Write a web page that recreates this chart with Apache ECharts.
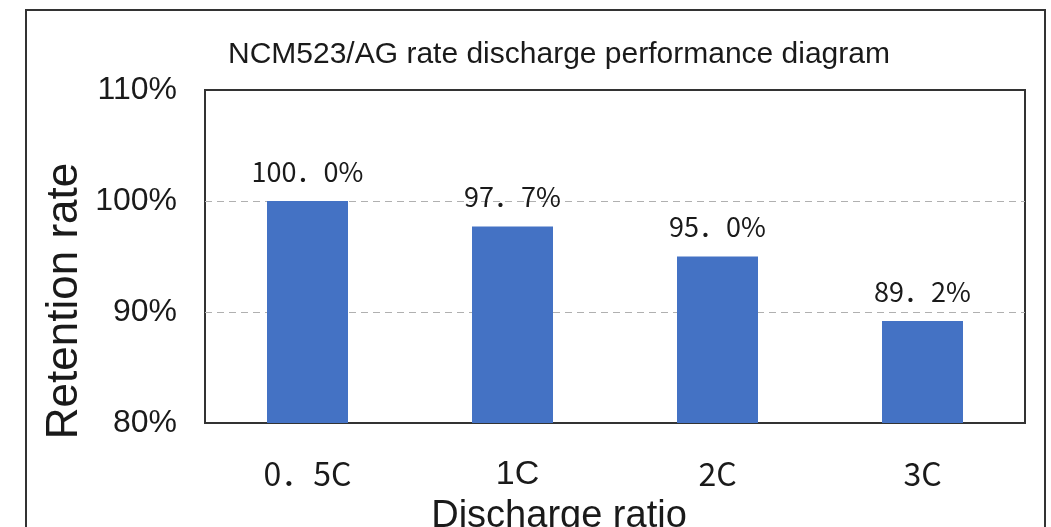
<!DOCTYPE html>
<html>
<head>
<meta charset="utf-8">
<style>
  html, body { margin: 0; padding: 0; background: #ffffff; }
  #chart { width: 1051px; height: 527px; }
</style>
<script src="https://cdn.jsdelivr.net/npm/echarts@6/dist/echarts.min.js"></script>
</head>
<body>
<div id="chart"></div>
<script>
// Discharge rates and the capacity retained at each rate (%)
const categories = ['0.5C', '1C', '2C', '3C'];
const retention = [100.0, 97.7, 95.0, 89.2];
const yTicks = { min: 80, max: 110, step: 10 };

const titleText = 'NCM523/AG rate discharge performance diagram';
const xAxisTitle = 'Discharge ratio';
const yAxisTitle = 'Retention rate';

const CJK = '"Noto Sans CJK SC", "Noto Sans", sans-serif';
const LATIN = '"Liberation Sans", Arial, sans-serif';

// decimal point shown as a full-width stop, as in the labels
const fw = s => String(s).replace('.', '\uFF0E');

const chart = echarts.init(document.getElementById('chart'));

chart.setOption({
  backgroundColor: '#ffffff',
  animation: false,
  title: {
    text: titleText,
    left: 223,
    top: 35,
    textStyle: { fontFamily: LATIN, fontSize: 30, fontWeight: 'normal', color: '#1a1a1a' }
  },
  grid: {
    left: 205, top: 90, right: 26, bottom: 104,
    show: true, borderColor: '#333333', borderWidth: 2, backgroundColor: 'transparent'
  },
  xAxis: {
    type: 'category',
    data: categories,
    axisLine: { show: false },
    axisTick: { show: false },
    axisLabel: {
      margin: 35,
      formatter: v => v === '1C' ? '{big|' + v + '}' : '{cjk|' + fw(v) + '}',
      rich: {
        cjk: { fontFamily: CJK, fontSize: 32, color: '#1a1a1a' },
        big: { fontFamily: LATIN, fontSize: 34, color: '#1a1a1a', padding: [0, 0, 10, 10] }
      }
    }
  },
  yAxis: {
    type: 'value',
    min: yTicks.min, max: yTicks.max, interval: yTicks.step,
    axisLine: { show: false },
    axisTick: { show: false },
    splitLine: {
      showMinLine: false,
      showMaxLine: false,
      lineStyle: { color: '#b0b0b0', type: [7, 5], width: 1 }
    },
    axisLabel: {
      margin: 28,
      formatter: '{value}%',
      fontFamily: LATIN, fontSize: 32, color: '#1a1a1a'
    }
  },
  series: [{
    type: 'bar',
    data: retention,
    barWidth: 81,
    itemStyle: { color: '#4472C4' },
    label: {
      show: true,
      position: 'top',
      distance: 16,
      formatter: p => fw(p.value.toFixed(1)) + '%',
      fontFamily: CJK, fontSize: 27, color: '#1a1a1a'
    }
  }],
  graphic: [
    {
      type: 'rect',
      shape: { x: 26, y: 10, width: 1019, height: 560 },
      style: { fill: 'none', stroke: '#333333', lineWidth: 2 },
      silent: true, z: -1
    },
    {
      type: 'text',
      x: 65, y: 301, rotation: Math.PI / 2,
      style: {
        text: yAxisTitle, fontFamily: LATIN, fontSize: 44, fill: '#1a1a1a',
        align: 'center', verticalAlign: 'middle'
      }
    },
    {
      type: 'text',
      x: 559, y: 517,
      style: {
        text: xAxisTitle, fontFamily: LATIN, fontSize: 38, fill: '#1a1a1a',
        align: 'center', verticalAlign: 'middle'
      }
    }
  ]
});
</script>
</body>
</html>
